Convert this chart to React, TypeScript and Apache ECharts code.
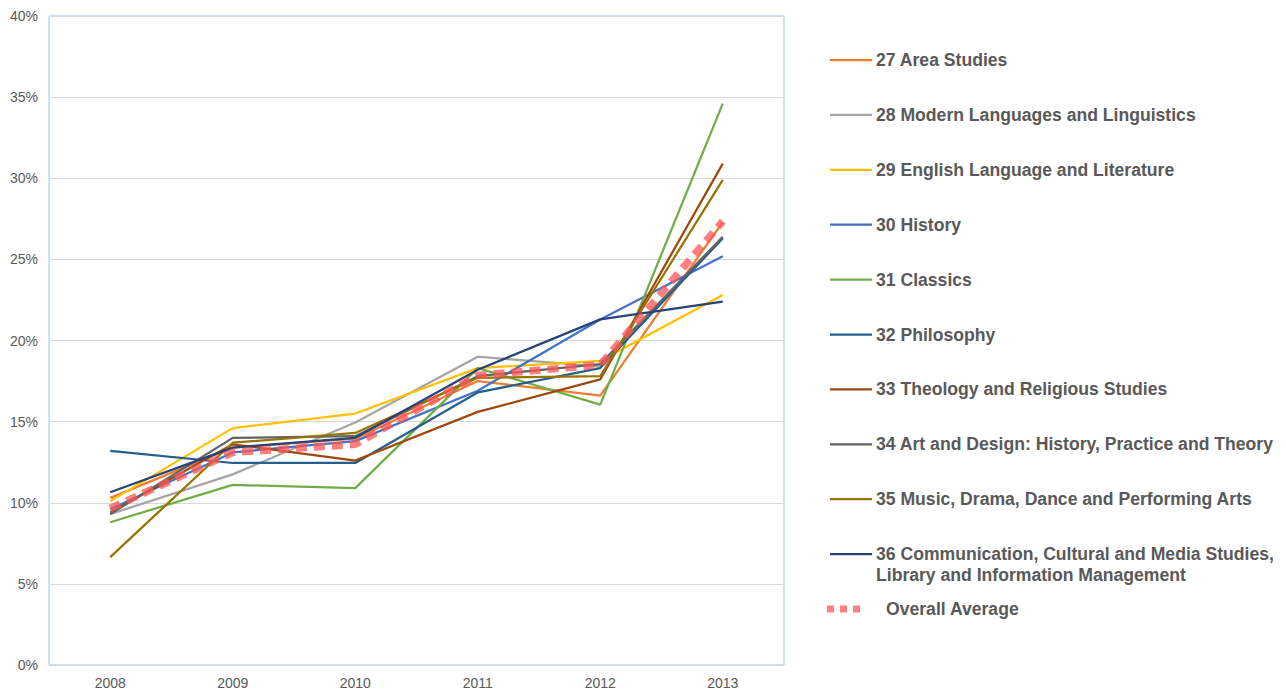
import React, { useEffect, useRef } from "react";
import * as echarts from "echarts";

const years = ["2008", "2009", "2010", "2011", "2012", "2013"];

const areaStudies = [10.3, 13.4, 13.95, 17.5, 16.6, 27.3];
const modernLanguages = [9.3, 11.75, 14.95, 19.0, 18.4, 26.3];
const english = [10.1, 14.6, 15.5, 18.3, 18.75, 22.8];
const history = [9.6, 13.1, 13.8, 16.9, 21.3, 25.2];
const classics = [8.8, 11.1, 10.9, 18.3, 16.05, 34.6];
const philosophy = [13.2, 12.45, 12.45, 16.8, 18.3, 26.3];
const theology = [9.4, 13.6, 12.6, 15.6, 17.6, 30.9];
const artDesign = [9.3, 14.0, 14.1, 17.8, 18.55, 26.4];
const music = [6.65, 13.7, 14.3, 17.7, 17.8, 29.9];
const communication = [10.65, 13.4, 14.0, 18.2, 21.3, 22.4];
const overallAverage = [9.65, 13.1, 13.6, 17.85, 18.5, 27.35];

const seriesNames = [
  "27 Area Studies",
  "28 Modern Languages and Linguistics",
  "29 English Language and Literature",
  "30 History",
  "31 Classics",
  "32 Philosophy",
  "33 Theology and Religious Studies",
  "34 Art and Design: History, Practice and Theory",
  "35 Music, Drama, Dance and Performing Arts",
  "36 Communication, Cultural and Media Studies,\nLibrary and Information Management",
];
const seriesData = [
  areaStudies,
  modernLanguages,
  english,
  history,
  classics,
  philosophy,
  theology,
  artDesign,
  music,
  communication,
];
const seriesColors = [
  "#ED7D31",
  "#A5A5A5",
  "#FFC000",
  "#4472C4",
  "#70AD47",
  "#255E91",
  "#9E480E",
  "#636363",
  "#997300",
  "#264478",
];
const avgName = "Overall Average";
const avgColor = "rgba(255, 85, 85, 0.75)";

const yTicks = [0, 5, 10, 15, 20, 25, 30, 35, 40];

export default function App() {
  const ref = useRef<HTMLDivElement>(null);
  useEffect(() => {
    if (!ref.current) return;
    const chart = echarts.init(ref.current, undefined, { renderer: "svg" });
    const textColor = "#595959";
    const font = "Arial, 'Liberation Sans', sans-serif";

    const series: any[] = seriesData.map((d, i) => ({
      name: seriesNames[i],
      type: "line",
      data: d.map((v) => v / 100),
      symbol: "none",
      lineStyle: { color: seriesColors[i], width: 2.25 },
      itemStyle: { color: seriesColors[i] },
      z: 2,
    }));
    series.push({
      name: avgName,
      type: "line",
      data: overallAverage.map((v) => v / 100),
      symbol: "none",
      lineStyle: { color: avgColor, width: 7.5, type: [11, 7] },
      itemStyle: { color: avgColor },
      z: 3,
    });

    const graphics: any[] = [];
    const legendX = 830;
    const legendTop = 60;
    const step = 54.9;
    seriesNames.forEach((name, i) => {
      const y = legendTop + step * i;
      graphics.push({
        type: "line",
        shape: { x1: legendX, y1: y, x2: legendX + 42, y2: y },
        style: { stroke: seriesColors[i], lineWidth: 2.25 },
      });
      graphics.push({
        type: "text",
        x: legendX + 46,
        y: y - 10.5,
        style: {
          text: name,
          fill: textColor,
          font: `bold 17.6px ${font}`,
          lineHeight: 21,
          verticalAlign: "top",
          align: "left",
        },
      });
    });
    const avgY = legendTop + step * seriesNames.length;
    graphics.push({
      type: "line",
      shape: { x1: 827, y1: avgY, x2: 866, y2: avgY },
      style: { stroke: avgColor, lineWidth: 7, lineDash: [7, 6] },
    });
    graphics.push({
      type: "text",
      x: 886,
      y: avgY,
      style: {
        text: avgName,
        fill: textColor,
        font: `bold 17.6px ${font}`,
        verticalAlign: "middle",
        align: "left",
      },
    });

    chart.setOption({
      animation: false,
      backgroundColor: "#ffffff",
      grid: {
        left: 49,
        top: 16,
        width: 735,
        height: 651,
        show: true,
        borderColor: "#9DC3E6",
        borderWidth: 1,
        backgroundColor: "transparent",
      },
      xAxis: {
        type: "category",
        data: years,
        boundaryGap: true,
        axisLine: { show: false },
        axisTick: { show: false },
        axisLabel: { color: textColor, fontSize: 14, fontFamily: font, margin: 11 },
        splitLine: { show: false },
      },
      yAxis: {
        type: "value",
        min: yTicks[0] / 100,
        max: yTicks[yTicks.length - 1] / 100,
        interval: 0.05,
        axisLine: { show: false },
        axisTick: { show: false },
        axisLabel: {
          color: textColor,
          fontSize: 14,
          fontFamily: font,
          margin: 11,
          formatter: (v: number) => `${Math.round(v * 100)}%`,
        },
        splitLine: { lineStyle: { color: "#D9D9D9", width: 1 } },
      },
      series,
      graphic: graphics,
    });
    return () => chart.dispose();
  }, []);
  return (
    <div
      ref={ref}
      style={{ position: "fixed", left: 0, top: 0, width: 1286, height: 690 }}
    />
  );
}
